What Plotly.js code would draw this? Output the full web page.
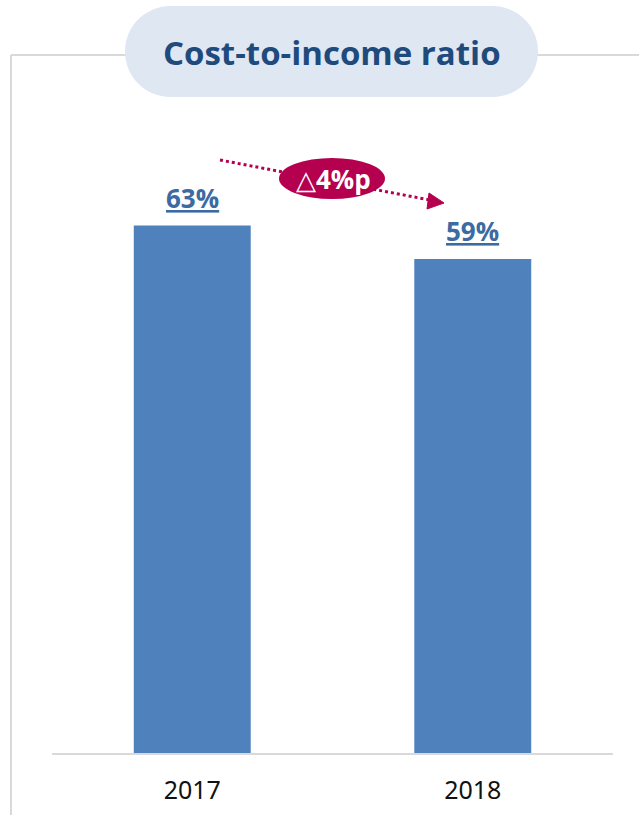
<!DOCTYPE html>
<html>
<head>
<meta charset="utf-8">
<script src="https://cdn.plot.ly/plotly-3.0.1.min.js"></script>
<style>html,body{margin:0;padding:0;background:#fff;}#chart{width:639px;height:815px;}</style>
</head>
<body>
<div id="chart"></div>
<script>
// Data
const categories = ["2017", "2018"];
const ratios = [63, 59];
const valueLabels = ["63%", "59%"];
const titleText = "Cost-to-income ratio";
const deltaText = "△4%p";

// pixel -> paper helpers (plot area: x 52..613, y 100..753)
const L = 52, R = 613, T = 100, B = 753;
const px = x => (x - L) / (R - L);
const py = y => (B - y) / (B - T);

const barColor = "#4f81bd";
const accent = "#b5004f";
const grey = "#d9d9d9";
const pillFill = "#dfe7f2";

const trace = {
  type: "bar",
  x: categories,
  y: ratios,
  marker: {color: barColor},
  hoverinfo: "skip"
};

const shapes = [
  // outer frame lines
  {type: "line", xref: "paper", yref: "paper", x0: px(11), x1: px(640), y0: py(55), y1: py(55), line: {color: grey, width: 2}},
  {type: "line", xref: "paper", yref: "paper", x0: px(11), x1: px(11), y0: py(55), y1: py(816), line: {color: grey, width: 2}},
  // title pill
  {type: "circle", xref: "paper", yref: "paper", x0: px(125), x1: px(216), y0: py(97), y1: py(6), fillcolor: pillFill, line: {width: 0}},
  {type: "circle", xref: "paper", yref: "paper", x0: px(447), x1: px(538), y0: py(97), y1: py(6), fillcolor: pillFill, line: {width: 0}},
  {type: "rect", xref: "paper", yref: "paper", x0: px(170), x1: px(493), y0: py(97), y1: py(6), fillcolor: pillFill, line: {width: 0}},
  // dotted arrow
  {type: "line", xref: "paper", yref: "paper", x0: px(220), y0: py(160), x1: px(430), y1: py(200), line: {color: accent, width: 3, dash: "dot"}},
  {type: "path", xref: "paper", yref: "paper",
   path: `M ${px(444)} ${py(203)} L ${px(429)} ${py(193)} L ${px(427)} ${py(209)} Z`,
   fillcolor: accent, line: {color: accent, width: 1}},
  // ellipse badge
  {type: "circle", xref: "paper", yref: "paper", x0: px(279), x1: px(385), y0: py(199), y1: py(158), fillcolor: accent, line: {width: 0}}
];

const annotations = [
  {xref: "paper", yref: "paper", x: px(332), y: py(53), xanchor: "center", yanchor: "middle",
   text: "<b>" + titleText + "</b>", showarrow: false,
   font: {family: "Open Sans, sans-serif", size: 33, color: "#1f4a7c"}},
  {xref: "paper", yref: "paper", x: px(333), y: py(179), xanchor: "center", yanchor: "middle",
   text: "<b>" + deltaText + "</b>", showarrow: false,
   font: {family: "Open Sans, DejaVu Sans, sans-serif", size: 26, color: "#ffffff"}}
];
categories.forEach((c, i) => {
  annotations.push({
    xref: "x", yref: "y", x: i, y: ratios[i], xanchor: "center", yanchor: "bottom", yshift: 8,
    text: "<b>" + valueLabels[i] + "</b>", showarrow: false,
    font: {family: "Open Sans, sans-serif", size: 26, color: "#3c6aa2", lineposition: "under"}
  });
});

const layout = {
  width: 639, height: 815,
  margin: {l: L, r: 639 - R, t: T, b: 815 - B, pad: 0},
  paper_bgcolor: "#ffffff", plot_bgcolor: "#ffffff",
  showlegend: false,
  bargap: 0.583,
  xaxis: {
    type: "category", range: [-0.5, 1.5],
    showline: true, linecolor: grey, linewidth: 2,
    showgrid: false, zeroline: false, ticks: "",
    ticklabelstandoff: 14,
    tickfont: {family: "Noto Sans, sans-serif", size: 25, color: "#111111"}
  },
  yaxis: {range: [0, 78.0], showticklabels: false, showline: false, showgrid: false, zeroline: false, ticks: ""},
  shapes: shapes,
  annotations: annotations
};

Plotly.newPlot("chart", [trace], layout, {staticPlot: true, displayModeBar: false});
</script>
</body>
</html>
